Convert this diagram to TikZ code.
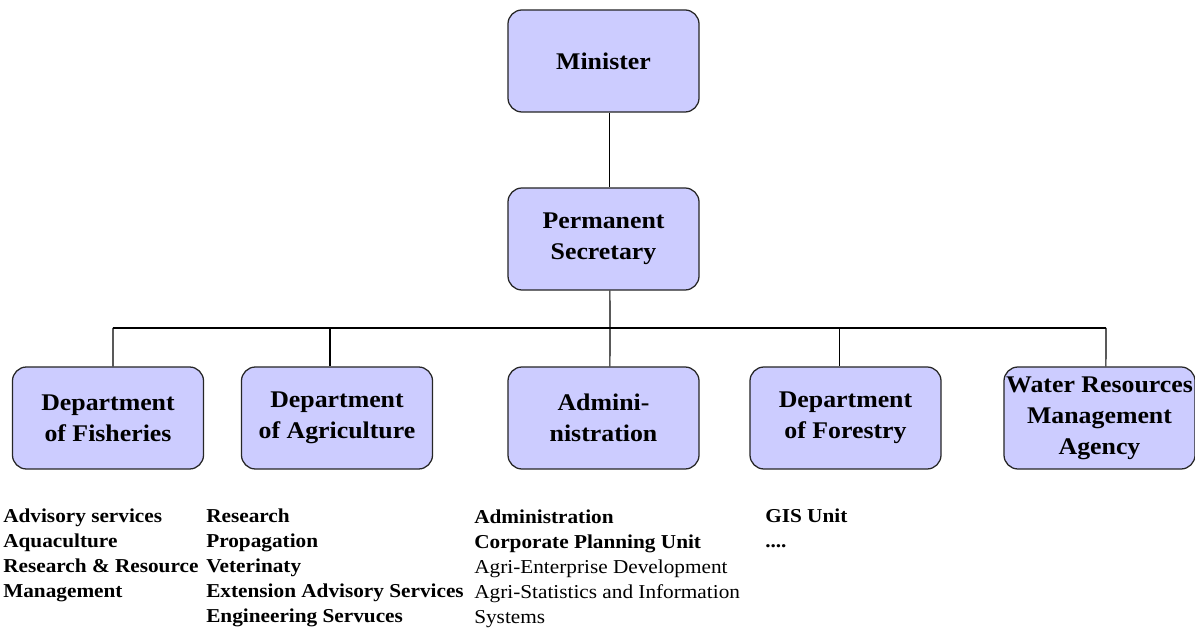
\documentclass[tikz,border=0pt]{standalone}
\usepackage{fontspec}
\setmainfont[FakeStretch=1.08]{Liberation Serif}
\definecolor{unitfill}{HTML}{CCCCFF}
\begin{document}
\begin{tikzpicture}[x=0.025cm, y=-0.025cm]

    \tikzset{unit/.style={draw=black!85, line width=0.9pt, fill=unitfill, rounded corners=10pt,
        minimum width=4.775cm, minimum height=2.55cm, align=center, inner sep=0pt,
        font=\fontsize{17}{22}\selectfont\bfseries}}
    \tikzset{tasks/.style={anchor=north west, align=left, inner sep=0pt,
        font=\fontsize{14}{17.7}\selectfont}}

    \useasboundingbox (0,0) rectangle (1195,628);

    \node[unit] (minister) at (603.5, 61) {Minister};
    \node[unit] (ps) at (603.5, 239) {Permanent\\Secretary};

    \node[unit] (fish) at ( 108, 418) {Department\\of Fisheries};
    \node[unit] (agri) at ( 337, 418) {Department\\of Agriculture};
    \node[unit] (admin) at ( 603.5, 418) {Admini-\\nistration};
    \node[unit] (forest) at ( 845.5, 418) {Department\\of Forestry};
    \node[unit] (water) at ( 1099.5, 418) {\makebox[0pt]{Water Resources}\\Management\\Agency};

    \coordinate (bus) at (610, 328);
    \coordinate (busl) at (113, 328);
    \coordinate (busr) at (1106, 328);

    \begin{scope}[line width=0.8pt]
        \draw ([xshift=0.16cm]minister.south) -- ([xshift=0.16cm]ps.north);
        \draw ([xshift=0.16cm]ps.south) -- (bus);
        \draw (busl) -- (busr);

        \draw (busl) -- ([xshift=0.125cm]fish.north);
        \draw ([xshift=-0.175cm]agri.north) -- ([xshift=-0.175cm]agri.north |- bus);
        \draw (bus) -- ([xshift=0.16cm]admin.north);
        \draw ([xshift=-0.16cm]forest.north) -- ([xshift=-0.16cm]forest.north |- bus);
        \draw (busr) -- ([xshift=0.16cm]water.north);
    \end{scope}

    \node[tasks, font=\fontsize{14}{17.7}\selectfont\bfseries] (fishtasks) at (3, 509)
        {Advisory services\\Aquaculture\\Research \& Resource\\Management};
    \node[tasks, font=\fontsize{14}{17.7}\selectfont\bfseries] (agritasks) at (206, 509)
        {Research\\Propagation\\Veterinaty\\Extension Advisory Services\\Engineering Servuces};
    \node[tasks] (admintasks) at (474, 510)
        {\textbf{Administration}\\\textbf{Corporate Planning Unit}\\Agri-Enterprise Development\\Agri-Statistics and Information\\Systems};
    \node[tasks, font=\fontsize{14}{17.7}\selectfont\bfseries] (foresttasks) at (765, 509)
        {GIS Unit\\....};

\end{tikzpicture}
\end{document}
